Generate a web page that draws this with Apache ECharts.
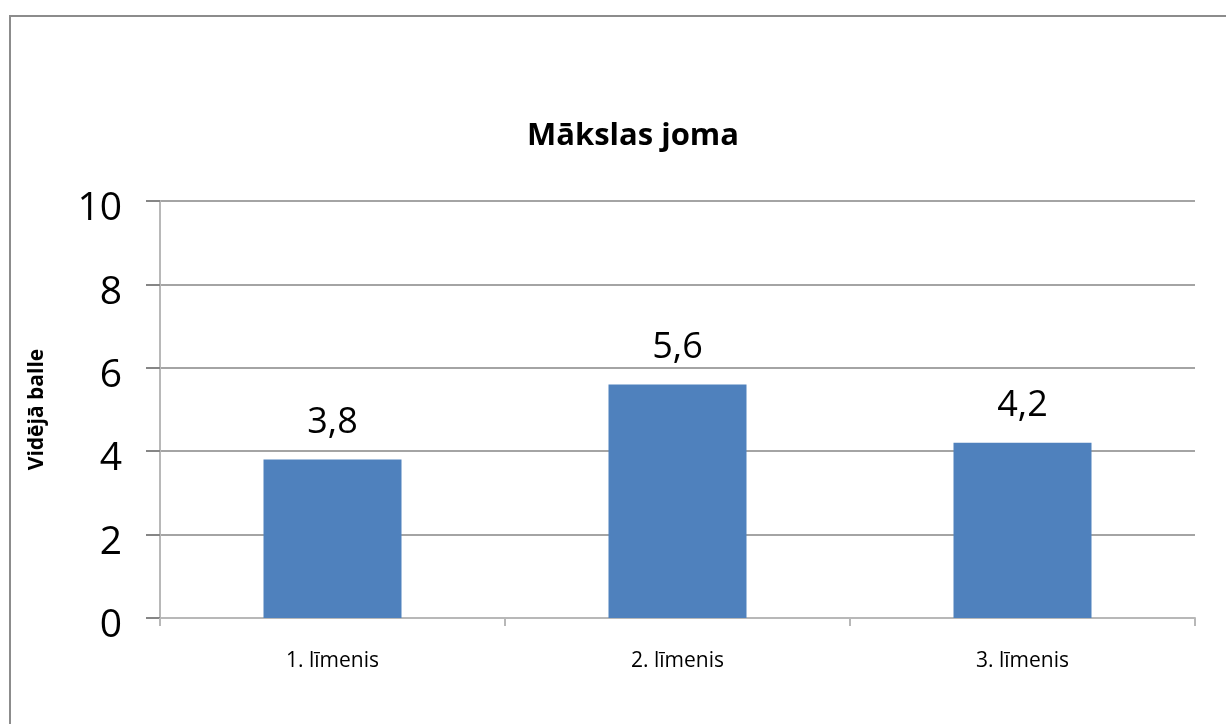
<!DOCTYPE html>
<html>
<head>
<meta charset="utf-8">
<script src="https://cdn.jsdelivr.net/npm/echarts@6/dist/echarts.min.js"></script>
<style>
	html, body { margin: 0; padding: 0; background: #fff; }
	#frame { position: absolute; left: 9px; top: 15px; width: 1240px; height: 740px;
		border-top: 2px solid #8c8c8c; border-left: 2px solid #8c8c8c; box-sizing: border-box; }
	#chart { position: absolute; left: 0; top: 0; width: 1226px; height: 724px; }
</style>
</head>
<body>
<div id="frame"></div>
<div id="chart"></div>
<script>
var title = 'Mākslas joma';
var yName = 'Vidējā balle';
var categories = ['1. līmenis', '2. līmenis', '3. līmenis'];
var values = [3.8, 5.6, 4.2];

var myChart = echarts.init(document.getElementById('chart'));

// axis + grid roughly like the excel export
var option = {
	animation: false,
	title: {
		text: title,
		left: 628,
		top: 116,
		textAlign: 'center',
		textStyle: { fontFamily: 'Open Sans', fontSize: 31, fontWeight: 'bold', color: '#000' }
	},
	grid: { left: 160, right: 31, top: 201, bottom: 106 },
	xAxis: {
		type: 'category',
		data: categories,
		axisLine: { lineStyle: { color: '#b8b8b8', width: 2 } },
		axisTick: { show: true, length: 8, lineStyle: { color: '#b8b8b8', width: 2 } },
		axisLabel: { fontFamily: 'Open Sans', fontSize: 21, color: '#000', margin: 33 }
	},
	yAxis: {
		type: 'value',
		min: 0,
		max: 10,
		interval: 2,
		name: yName,
		nameLocation: 'middle',
		nameGap: 112,
		nameTextStyle: { fontFamily: 'Open Sans', fontSize: 21, fontWeight: 'bold', color: '#000' },
		axisLine: { show: true, lineStyle: { color: '#b8b8b8', width: 2 } },
		axisTick: { show: true, length: 14, lineStyle: { color: '#868686', width: 2 } },
		splitLine: { lineStyle: { color: '#868686', width: 1.5 } },
		axisLabel: {
			margin: 38,
			formatter: function (v) { return '{n|' + v + '}'; },
			rich: {
				n: { fontFamily: 'Open Sans', fontSize: 39, color: '#000', padding: [16, 0, 0, 0] }
			}
		}
	},
	series: [
		{
			type: 'bar',
			data: values,
			barWidth: '40%',
			itemStyle: { color: '#4F81BD' },
			label: {
				show: true,
				position: 'top',
				distance: 19,
				fontFamily: 'Open Sans',
				fontSize: 36,
				color: '#000',
				formatter: function (p) { return String(p.value).replace('.', ','); }
			}
		}
	]
};

myChart.setOption(option);
</script>
</body>
</html>
